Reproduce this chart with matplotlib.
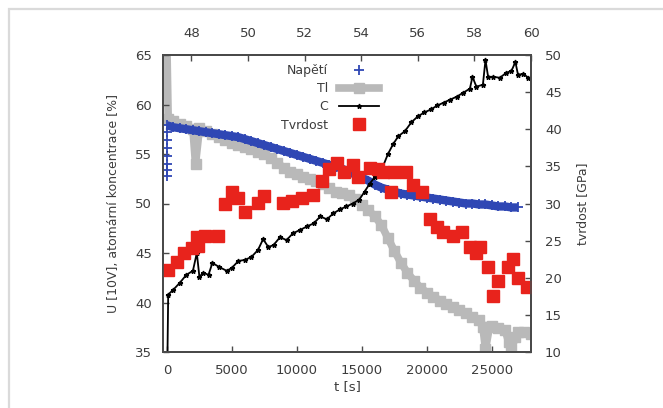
import numpy as np
import matplotlib
matplotlib.use("Agg")
import matplotlib.pyplot as plt
from matplotlib.patches import Rectangle

# Napeti (voltage) - left axis, [10 V]
napeti_t = [0, 500, 1000, 1500, 2000, 2500, 3000, 3500, 4000, 4500, 5000,
            5500, 6000, 6500, 7000, 7500, 8000, 8500, 9000, 9500, 10000,
            10500, 11000, 11500, 12000, 12500, 13000, 13500, 14000, 14500,
            15000, 15500, 16000, 16500, 17000, 17500, 18000, 18500, 19000,
            19500, 20000, 20500, 21000, 21500, 22000, 22500, 23000, 23500,
            24000, 24500, 25000, 25500, 26000, 26500, 27000]
napeti = [57.9, 57.7, 57.6, 57.5, 57.4, 57.3, 57.2, 57.1, 57.0, 56.9, 56.8,
          56.7, 56.5, 56.3, 56.1, 55.9, 55.7, 55.5, 55.3, 55.1, 54.9,
          54.7, 54.5, 54.3, 54.1, 53.9, 53.7, 53.5, 53.2, 52.9,
          52.6, 52.3, 51.9, 51.6, 51.4, 51.2, 51.0, 50.9, 50.8,
          50.7, 50.6, 50.5, 50.4, 50.3, 50.2, 50.1, 50.0, 50.0,
          49.9, 49.9, 49.8, 49.7, 49.7, 49.6, 49.6]
napeti_start_t = [0, 0, 0, 0, 0, 0, 0]
napeti_start = [57.2, 56.4, 55.6, 54.8, 54.0, 53.4, 52.8]

# Ti concentration [%]
ti_t = [0, 100, 500, 1000, 1500, 2000, 2200, 2500, 3000, 3500, 4000, 4500,
        5000, 5500, 6000, 6500, 7000, 7500, 8000, 8500, 9000, 9500, 10000,
        10500, 11000, 11500, 12000, 12500, 13000, 13500, 14000, 14500,
        15000, 15500, 16000, 16500, 17000, 17500, 18000, 18500, 19000,
        19500, 20000, 20500, 21000, 21500, 22000, 22500, 23000, 23500,
        24000, 24300, 24500, 24800, 25000, 25500, 26000, 26300, 26500,
        26800, 27000, 27500, 28000]
ti = [66.0, 58.5, 58.3, 58.0, 57.8, 57.5, 54.0, 57.6, 57.3, 57.0, 56.7, 56.4,
      56.1, 55.9, 55.7, 55.5, 55.2, 55.0, 54.6, 54.1, 53.6, 53.2, 53.0,
      52.7, 52.5, 52.3, 52.0, 51.6, 51.2, 51.1, 50.9, 50.5,
      49.8, 49.3, 48.7, 47.8, 46.5, 45.2, 44.0, 43.0, 42.2,
      41.5, 41.0, 40.6, 40.2, 39.8, 39.5, 39.2, 38.9, 38.5,
      38.2, 37.5, 35.3, 37.5, 37.6, 37.4, 37.2, 36.0, 35.3,
      36.5, 37.0, 37.0, 36.8]

# C concentration [%]
c_t = [0, 100, 500, 1000, 1500, 2000, 2300, 2500, 2800, 3200, 3500, 4000,
       4600, 5000, 5500, 6000, 6500, 7000, 7400, 7800, 8200, 8700, 9200,
       9700, 10200, 10800, 11300, 11800, 12300, 12800, 13300, 13800, 14300,
       14800, 15200, 15600, 16000, 16600, 17000, 17400, 17800, 18300, 18800,
       19300, 19800, 20300, 20800, 21300, 21800, 22300, 22800, 23300, 23500,
       23800, 24300, 24500, 24700, 25100, 25600, 26100, 26500, 26800, 27000,
       27400, 27800]
c = [30.0, 40.8, 41.3, 42.0, 42.8, 43.2, 45.0, 42.6, 43.0, 42.8, 44.0, 43.6,
     43.2, 43.5, 44.2, 44.3, 44.6, 45.3, 46.4, 45.6, 45.8, 46.6, 46.3,
     47.0, 47.3, 47.7, 48.0, 48.7, 48.4, 49.0, 49.4, 49.7, 50.0,
     50.4, 51.2, 52.0, 52.7, 53.7, 55.0, 56.0, 56.8, 57.3, 58.2,
     58.8, 59.2, 59.5, 59.9, 60.2, 60.5, 60.8, 61.2, 61.6, 62.8,
     61.8, 62.0, 64.5, 62.8, 62.8, 62.7, 63.2, 63.4, 64.3, 63.0,
     63.1, 62.7]

# Tvrdost (hardness) [GPa] - right axis
tvr_t = [100, 800, 1300, 1900, 2300, 2400, 2900, 3900,
         4500, 5000, 5500, 6000, 7000, 7500, 8900, 9600, 10400, 11200,
         11900, 12500, 13100, 13600, 14300, 14700, 15600, 16200, 16600,
         17200, 17500, 18400, 18900, 19600, 20200, 20800, 21200, 22000,
         22700, 23300, 23800, 24100, 24700, 25100, 25500, 26200, 26600,
         27000, 27700]
tvrdost = [21.1, 22.1, 23.3, 24.0, 25.5, 24.3, 25.6, 25.6,
           29.9, 31.6, 30.8, 28.9, 30.1, 31.0, 30.1, 30.3, 30.8, 31.2,
           33.0, 34.6, 35.5, 34.2, 35.2, 33.6, 34.8, 34.6, 34.3,
           31.6, 34.3, 34.3, 32.5, 31.5, 27.9, 26.9, 26.1, 25.6,
           26.1, 24.2, 23.4, 24.2, 21.4, 17.5, 19.5, 21.4, 22.5,
           20.0, 18.7]

top_ticks = [48, 50, 52, 54, 56, 58, 60]

BLUE = "#2f47b4"
GRAY = "#b9b9b9"
RED = "#e8231c"
TXT = "#3c3c3c"
AX = "#4a4a4a"

plt.rcParams["font.family"] = ["DejaVu Sans"]

fig = plt.figure(figsize=(6.63, 4.08), dpi=100)
fig.patches.append(Rectangle((9 / 663, -1), 2, 2 - 9 / 408,
                             transform=fig.transFigure, fill=False,
                             edgecolor="#dadada", linewidth=1.6))

ax = fig.add_axes([163 / 663, 1 - 352 / 408, 368 / 663, 297 / 408])

ax.plot(ti_t, ti, color=GRAY, lw=5.5, marker="s", ms=7, zorder=1, label="Tl")
ax.plot(napeti_t, napeti, color=BLUE, lw=6, solid_capstyle="butt", zorder=2)
ax.plot(napeti_t + napeti_start_t, napeti + napeti_start, "+", color=BLUE,
        ms=7, mew=1.3, zorder=2, label="Napětí")
ax.plot(c_t, c, color="black", lw=1.3, marker="*", ms=3.5, zorder=3, label="C")

ax.set_xlim(-300, 28000)
ax.set_ylim(35, 65)
ax.set_xticks(np.arange(0, 28000, 5000))
ax.set_yticks(np.arange(35, 66, 5))
ax.set_xlabel("t [s]", fontsize=9.5, color=TXT, labelpad=2)
ax.set_ylabel("U [10V], atomární koncentrace [%]", fontsize=9, color=TXT,
              labelpad=11)

ax2 = ax.twinx()
ax2.plot(tvr_t, tvrdost, "s", color=RED, ms=9, zorder=4, label="Tvrdost")
ax2.set_ylim(10, 50)
ax2.set_yticks(np.arange(10, 51, 5))
ax2.set_ylabel("tvrdost [GPa]", fontsize=9, color=TXT, labelpad=10)

ax3 = ax.twiny()
ax3.set_xlim(47.0, 60.0)
ax3.set_xticks(top_ticks)

for a in (ax, ax2, ax3):
    a.tick_params(direction="in", length=4, width=1, colors=AX,
                  labelcolor=TXT, labelsize=9.5, pad=5)
    for s in a.spines.values():
        s.set_color(AX)
        s.set_linewidth(1.2)
ax.tick_params(axis="x", pad=9)
ax3.tick_params(axis="x", pad=11)
ax.tick_params(axis="y", pad=8)
ax2.tick_params(axis="y", pad=10)

handles = []
labels = []
for a in (ax, ax2):
    h, l = a.get_legend_handles_labels()
    handles += h
    labels += l
order = ["Napětí", "Tl", "C", "Tvrdost"]
hl = dict(zip(labels, handles))
leg = ax2.legend([hl[k] for k in order], order, loc="upper right",
                 bbox_to_anchor=(0.587, 0.97), frameon=False, fontsize=9,
                 markerfirst=False, numpoints=1, handlelength=3.2,
                 handletextpad=0.9, labelspacing=0.42, borderpad=0,
                 borderaxespad=0)
for t in leg.get_texts():
    t.set_color(TXT)

fig.savefig("out.png", dpi=100)
